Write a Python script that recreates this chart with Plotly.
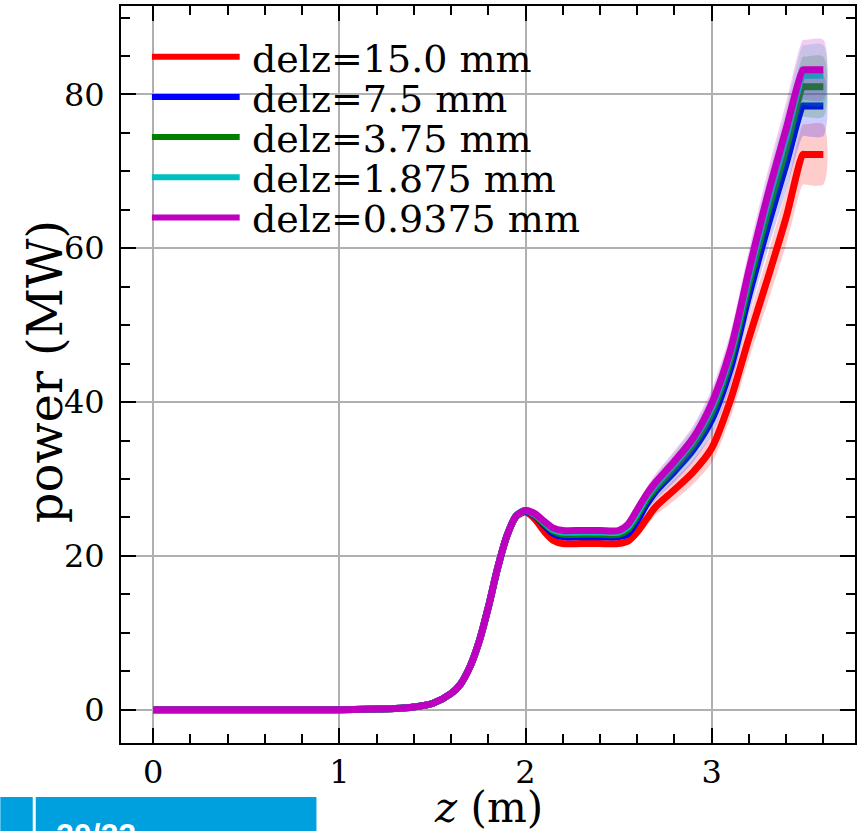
import plotly.graph_objects as go

# ---------------- data ----------------
z = [0.0, 0.5, 1.0, 1.2, 1.3, 1.4, 1.5, 1.6, 1.65, 1.7, 1.75, 1.8, 1.85, 1.9, 1.95,
     2.0, 2.05, 2.1, 2.15, 2.2, 2.3, 2.4, 2.5, 2.55, 2.6, 2.65, 2.7, 2.8, 2.9,
     3.0, 3.1, 3.2, 3.3, 3.4, 3.49, 3.5, 3.6]

p_15 = [0, 0, 0, 0.08, 0.15, 0.35, 0.8, 2.1, 3.3, 5.5, 8.8, 13.3, 18.4, 22.6, 25.1,
        25.7, 24.8, 23.2, 22.0, 21.6, 21.6, 21.6, 21.6, 21.9, 23.1, 24.8, 26.4, 28.6, 30.9,
        34.0, 40.2, 48.3, 56.0, 64.0, 72.2, 72.2, 72.2]
p_7_5 = [0, 0, 0, 0.08, 0.15, 0.35, 0.8, 2.1, 3.3, 5.5, 8.8, 13.3, 18.4, 22.6, 25.2,
         25.8, 25.2, 24.0, 22.9, 22.5, 22.5, 22.5, 22.5, 22.9, 24.6, 26.7, 28.4, 31.0, 33.8,
         37.7, 44.3, 53.9, 62.8, 71.0, 78.5, 78.5, 78.5]
p_3_75 = [0, 0, 0, 0.08, 0.15, 0.35, 0.8, 2.1, 3.3, 5.5, 8.8, 13.3, 18.4, 22.6, 25.2,
          25.9, 25.3, 24.2, 23.2, 22.8, 22.8, 22.8, 22.8, 23.4, 25.2, 27.3, 28.9, 31.6, 34.5,
          38.7, 45.5, 55.4, 64.7, 73.1, 81.0, 81.0, 81.0]
p_1_875 = [0, 0, 0, 0.08, 0.15, 0.35, 0.8, 2.1, 3.3, 5.5, 8.8, 13.3, 18.4, 22.6, 25.2,
           25.9, 25.4, 24.4, 23.4, 23.1, 23.1, 23.1, 23.1, 23.8, 25.6, 27.7, 29.3, 32.0, 35.0,
           39.3, 46.2, 56.4, 65.9, 74.5, 82.5, 82.5, 82.5]
p_0_9375 = [0, 0, 0, 0.08, 0.15, 0.35, 0.8, 2.1, 3.3, 5.5, 8.8, 13.3, 18.4, 22.6, 25.2,
            25.9, 25.5, 24.5, 23.6, 23.3, 23.3, 23.3, 23.3, 24.1, 26.0, 28.0, 29.6, 32.3, 35.3,
            39.8, 46.7, 57.1, 66.8, 75.5, 83.2, 83.2, 83.2]

# half-width of the shaded uncertainty band (MW)
spread = [0, 0, 0, 0, 0, 0, 0, 0, 0, 0, 0, 0, 0, 0, 0.1,
          0.2, 0.25, 0.3, 0.3, 0.3, 0.3, 0.3, 0.3, 0.4, 0.6, 0.9, 1.1, 1.4, 1.6,
          1.9, 2.3, 2.7, 3.1, 3.5, 3.9, 3.9, 3.9]

labels = ["delz=15.0 mm", "delz=7.5 mm", "delz=3.75 mm", "delz=1.875 mm", "delz=0.9375 mm"]
series = [p_15, p_7_5, p_3_75, p_1_875, p_0_9375]
colors = ["#ff0000", "#0000ff", "#008000", "#00bfbf", "#bf00bf"]
fills = ["rgba(255,0,0,0.2)", "rgba(0,0,255,0.2)", "rgba(0,128,0,0.2)",
         "rgba(0,191,191,0.2)", "rgba(191,0,191,0.2)"]

x_ticks = [0, 1, 2, 3]
y_ticks = [0, 20, 40, 60, 80]

FONT = "DejaVu Serif"
W, H = 861, 831
L, R, T, B = 121, 4, 6, 88
PW, PH = W - L - R, H - T - B


def px(xp):
    return (xp - L) / PW


def py(yp):
    return (H - B - yp) / PH


fig = go.Figure()
for name, vals, col, fc in zip(labels, series, colors, fills):
    upper = [v + s for v, s in zip(vals, spread)]
    lower = [v - s for v, s in zip(vals, spread)]
    fig.add_trace(go.Scatter(x=z + z[::-1], y=upper + lower[::-1], fill="toself",
                             fillcolor=fc, line=dict(width=0, shape="spline", smoothing=0.8),
                             mode="lines", hoverinfo="skip", showlegend=False))
    fig.add_trace(go.Scatter(x=z, y=vals, mode="lines", name=name,
                             line=dict(color=col, width=7, shape="spline", smoothing=0.8),
                             showlegend=False))

axis_common = dict(
    showline=True, linewidth=2, linecolor="black", mirror="allticks",
    ticks="inside", ticklen=15, tickwidth=2, tickcolor="black",
    showgrid=True, gridcolor="#b0b0b0", gridwidth=2, zeroline=False,
    tickfont=dict(family=FONT, size=32, color="black"),
)
fig.update_xaxes(range=[-0.173, 3.77], tickvals=x_ticks,
                 minor=dict(ticks="inside", ticklen=9, tickwidth=2, tickcolor="black",
                            dtick=0.2, tick0=0, showgrid=False),
                 ticklabelstandoff=0, **axis_common)
fig.update_yaxes(range=[-4.33, 91.5], tickvals=y_ticks,
                 minor=dict(ticks="inside", ticklen=9, tickwidth=2, tickcolor="black",
                            dtick=5, tick0=0, showgrid=False),
                 ticklabelstandoff=8, **axis_common)

shapes = []
annotations = []
# custom legend
row_y = [56.7, 96.9, 137.1, 177.3, 217.5]
for name, col, ry in zip(labels, colors, row_y):
    shapes.append(dict(type="line", xref="paper", yref="paper", x0=px(152), x1=px(240),
                       y0=py(ry), y1=py(ry), line=dict(color=col, width=6)))
    annotations.append(dict(text=name, xref="paper", yref="paper", x=px(250), y=py(ry + 2),
                            xanchor="left", yanchor="middle", showarrow=False,
                            font=dict(family=FONT, size=38, color="black")))

# axis titles
annotations.append(dict(text="power (MW)", xref="paper", yref="paper", x=px(45), y=py(372),
                        xanchor="center", yanchor="middle", textangle=-90, showarrow=False,
                        font=dict(family=FONT, size=48, color="black")))
annotations.append(dict(text="<i>z</i> (m)", xref="paper", yref="paper", x=px(490), y=py(807),
                        xanchor="center", yanchor="middle", showarrow=False,
                        font=dict(family=FONT, size=42, color="black")))

# slide footer element
shapes.append(dict(type="rect", xref="paper", yref="paper", x0=px(0), x1=px(317),
                   y0=py(840), y1=py(797), fillcolor="#00a0df", line=dict(width=0), layer="above"))
shapes.append(dict(type="line", xref="paper", yref="paper", x0=px(34), x1=px(34),
                   y0=py(840), y1=py(797), line=dict(color="white", width=3), layer="above"))
annotations.append(dict(text="<b>20/22</b>", xref="paper", yref="paper", x=px(54), y=py(815),
                        xanchor="left", yanchor="top", showarrow=False,
                        font=dict(family="Liberation Sans", size=32, color="white")))

fig.update_layout(
    width=W, height=H, margin=dict(l=L, r=R, t=T, b=B),
    paper_bgcolor="white", plot_bgcolor="white",
    shapes=shapes, annotations=annotations, showlegend=False,
)

fig.write_html("out.html")
